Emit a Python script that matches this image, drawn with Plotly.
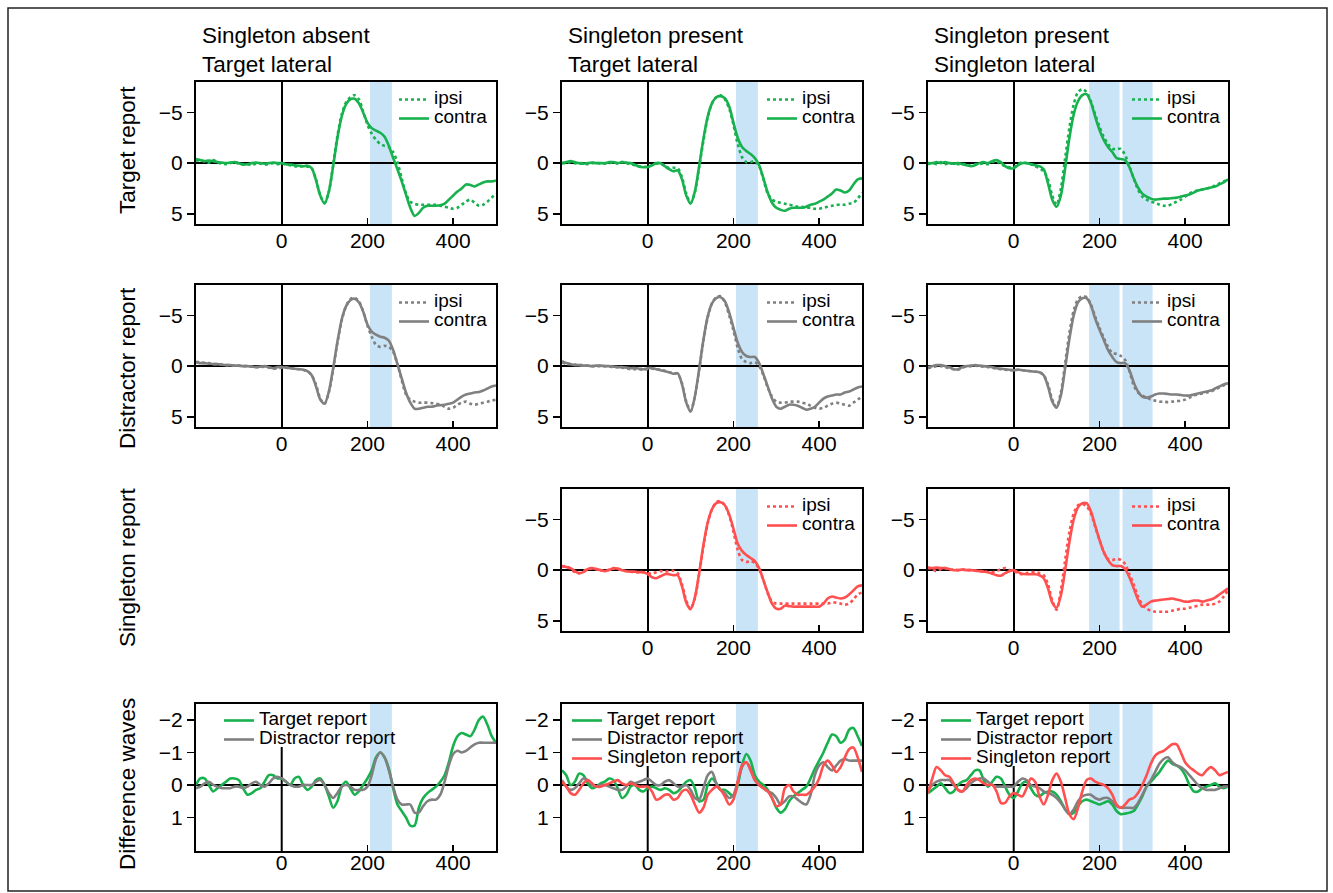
import plotly.graph_objects as go

# ---------------- data (µV, negative plotted upward) ----------------
TIME = list(range(-200, 501, 10))

# Row 1: target report
T_ABS_IPSI = [-0.2, -0.3, -0.15, -0.05, -0.3, -0.1, 0.05, 0.1, 0.0, -0.1,
              0.05, 0.1, 0.1, 0.2, 0.05, 0.05, 0.15, 0.1, 0.0, 0.1,
              0.0, 0.15, 0.2, 0.3, 0.35, 0.3, 0.35, 0.5, 1.6, 3.2,
              3.9, 2.8, 0.2, -2.7, -4.8, -6.0, -6.5, -6.7, -6.3, -5.1,
              -3.8, -2.9, -2.3, -1.9, -1.7, -1.6, -1.1, -0.1, 1.5, 3.0,
              3.8, 4.0, 4.1, 4.1, 4.1, 4.1, 4.1, 4.2, 4.3, 4.4,
              4.5, 4.4, 4.1, 3.8, 3.6, 3.9, 4.2, 4.1, 3.8, 3.4,
              3.0]
T_ABS_CONTRA = [-0.4, -0.3, -0.2, -0.25, -0.2, -0.1, -0.05, 0.0, -0.05, -0.1,
                0.0, 0.15, 0.1, 0.0, -0.05, 0.0, 0.05, 0.0, -0.05, 0.0,
                0.0, 0.1, 0.15, 0.2, 0.25, 0.3, 0.25, 0.5, 1.7, 3.2,
                4.0, 2.8, 0.3, -2.5, -4.6, -5.8, -6.3, -6.35, -5.9, -5.0,
                -4.0, -3.45, -3.2, -3.0, -2.6, -1.7, -0.5, 0.6, 1.8, 3.1,
                4.4, 5.2, 4.9, 4.4, 4.2, 4.2, 4.2, 4.15, 4.0, 3.6,
                3.2, 2.8, 2.5, 2.1, 2.15, 2.3, 2.1, 1.9, 1.8, 1.8,
                1.7]
T_PTL_IPSI = [0.0, 0.0, -0.1, 0.0, 0.05, 0.0, 0.1, 0.0, -0.05, 0.05,
              0.05, 0.0, -0.1, 0.05, -0.1, 0.0, 0.1, 0.2, 0.3, 0.35,
              0.35, 0.2, 0.05, 0.05, 0.25, 0.5, 0.45, 0.5, 1.4, 3.0,
              3.9, 2.9, 0.4, -2.2, -4.5, -5.9, -6.5, -6.7, -6.3, -5.4,
              -3.8, -1.9, -0.6, -0.1, -0.1, -0.2, 0.3, 1.6, 3.0, 3.6,
              3.8, 3.9, 4.0, 4.1, 4.2, 4.3, 4.3, 4.4, 4.4, 4.5,
              4.5, 4.4, 4.3, 4.2, 4.1, 4.1, 4.1, 4.0, 3.9, 3.5,
              2.9]
T_PTL_CONTRA = [0.0, -0.1, -0.2, -0.1, 0.0, 0.05, 0.0, -0.05, 0.0, 0.0,
                0.0, -0.1, -0.1, 0.0, -0.1, -0.05, 0.0, 0.15, 0.35, 0.4,
                0.4, 0.2, 0.0, 0.0, 0.3, 0.6, 0.8, 0.7, 1.6, 3.2,
                4.0, 2.8, 0.3, -2.4, -4.6, -5.9, -6.5, -6.6, -6.4, -5.6,
                -4.0, -2.5, -1.6, -1.2, -0.9, -0.5, 0.2, 1.5, 2.9, 3.9,
                4.4, 4.6, 4.7, 4.5, 4.4, 4.4, 4.4, 4.3, 4.1, 4.0,
                3.8, 3.6, 3.3, 3.0, 2.6, 2.7, 2.9, 2.7, 2.1, 1.6,
                1.5]
T_PSL_IPSI = [0.1, 0.0, 0.1, -0.1, 0.1, 0.0, 0.05, 0.1, 0.05, 0.15,
              0.25, 0.1, 0.1, 0.0, 0.1, -0.1, -0.2, 0.1, 0.3, 0.4,
              0.4, 0.1, -0.1, 0.0, 0.1, 0.3, 0.5, 0.8, 1.6, 3.2,
              4.1, 2.5, -0.5, -3.5, -5.8, -7.0, -7.3, -7.0, -6.1, -4.8,
              -3.6, -2.6, -1.9, -1.4, -1.4, -1.4, -0.8, 0.3, 1.5, 2.6,
              3.3, 3.6, 3.8, 3.9, 4.1, 4.2, 4.2, 4.0, 3.8, 3.6,
              3.3, 3.0, 2.8, 2.7, 2.6, 2.5, 2.4, 2.2, 2.0, 1.8,
              1.6]
T_PSL_CONTRA = [0.0, 0.0, -0.1, 0.0, -0.1, 0.0, 0.05, 0.0, 0.1, 0.2,
                0.3, 0.2, 0.0, -0.1, 0.0, -0.2, -0.3, -0.1, 0.3, 0.5,
                0.5, 0.2, 0.0, 0.0, 0.1, 0.2, 0.3, 0.6, 2.0, 3.6,
                4.3, 3.2, 0.5, -2.5, -4.8, -6.1, -6.7, -6.8, -6.0, -4.6,
                -3.3, -2.3, -1.6, -1.1, -0.5, -0.4, -0.3, 0.4, 1.5, 2.4,
                3.0, 3.3, 3.5, 3.6, 3.55, 3.5, 3.5, 3.45, 3.4, 3.3,
                3.2, 3.1, 2.9, 2.7, 2.6, 2.5, 2.4, 2.3, 2.1, 1.9,
                1.6]

# Row 2: distractor report
D_ABS_IPSI = [-0.4, -0.4, -0.3, -0.3, -0.2, -0.2, -0.15, -0.1, -0.1, -0.05,
              -0.05, 0.0, 0.0, 0.05, 0.1, 0.1, 0.05, 0.15, 0.25, 0.2,
              0.15, 0.15, 0.2, 0.25, 0.3, 0.35, 0.5, 0.9, 1.8, 3.2,
              3.7, 2.6, 0.3, -2.3, -4.5, -5.9, -6.6, -6.75, -6.4, -5.4,
              -4.0, -2.9, -2.1, -1.9, -2.0, -1.9, -1.4, -0.2, 1.4, 2.8,
              3.3, 3.5, 3.6, 3.6, 3.6, 3.65, 3.7, 3.8, 4.0, 4.2,
              4.1, 3.8, 3.6, 3.5, 3.7, 3.8, 3.7, 3.6, 3.5, 3.4,
              3.3]
D_ABS_CONTRA = [-0.4, -0.3, -0.3, -0.25, -0.2, -0.2, -0.15, -0.1, -0.1, -0.05,
                -0.05, 0.0, 0.0, 0.05, 0.1, 0.05, 0.0, 0.1, 0.2, 0.1,
                0.1, 0.15, 0.2, 0.25, 0.3, 0.35, 0.5, 0.9, 2.0, 3.3,
                3.7, 2.5, 0.2, -2.4, -4.6, -5.9, -6.5, -6.65, -6.3, -5.4,
                -4.1, -3.4, -3.1, -2.9, -2.8, -2.5, -1.6, -0.2, 1.2, 2.6,
                3.6, 4.2, 4.2, 4.1, 4.0, 4.0, 3.9, 3.85, 3.8, 3.7,
                3.6, 3.3, 3.0, 2.8, 2.7, 2.6, 2.55, 2.4, 2.2, 2.0,
                1.9]
D_PTL_IPSI = [-0.4, -0.2, -0.2, -0.15, -0.1, -0.1, -0.05, 0.0, 0.0, 0.0,
              0.0, 0.05, 0.1, 0.1, 0.15, 0.2, 0.3, 0.3, 0.3, 0.35,
              0.3, 0.25, 0.3, 0.35, 0.45, 0.6, 0.7, 0.75, 1.7, 3.5,
              4.4, 3.0, 0.4, -2.5, -4.8, -6.2, -6.8, -6.9, -6.3, -5.0,
              -3.5, -1.8, -0.7, -0.4, -0.3, -0.4, 0.0, 0.9, 2.1, 3.0,
              3.5, 3.6, 3.6, 3.5, 3.5, 3.5, 3.6, 3.7, 3.9, 4.1,
              4.2, 4.1, 3.9, 3.7, 3.6, 3.7, 3.8, 3.9, 3.6, 3.3,
              3.0]
D_PTL_CONTRA = [-0.5, -0.3, -0.2, -0.1, -0.1, -0.05, -0.05, 0.0, -0.05, -0.05,
                0.0, 0.0, 0.05, 0.1, 0.1, 0.15, 0.2, 0.2, 0.25, 0.3,
                0.2, 0.2, 0.3, 0.4, 0.5, 0.6, 0.75, 0.7, 1.8, 3.6,
                4.5, 3.0, 0.3, -2.6, -4.9, -6.2, -6.7, -6.8, -6.4, -5.3,
                -3.8, -2.3, -1.4, -1.0, -0.9, -0.9, -0.3, 0.8, 2.0, 3.2,
                4.0, 4.2, 4.0, 3.8, 3.8, 3.9, 4.1, 4.3, 4.2, 4.0,
                3.6, 3.2, 3.0, 2.9, 2.8, 2.8, 2.6, 2.5, 2.3, 2.1,
                2.0]
D_PSL_IPSI = [0.2, 0.1, 0.0, 0.0, 0.1, 0.2, 0.3, 0.35, 0.15, 0.05,
              0.0, -0.05, 0.0, 0.05, 0.1, 0.15, 0.25, 0.3, 0.35, 0.4,
              0.4, 0.35, 0.4, 0.45, 0.5, 0.55, 0.6, 0.9, 1.8, 3.3,
              4.0, 2.6, -0.3, -3.3, -5.5, -6.6, -6.9, -6.8, -6.1, -4.9,
              -3.8, -2.8, -1.9, -1.3, -1.2, -1.0, -0.6, 0.5, 1.9, 2.6,
              2.9, 3.1, 3.3, 3.4, 3.5, 3.5, 3.55, 3.5, 3.45, 3.4,
              3.3, 3.1, 2.9, 2.8, 2.7, 2.6, 2.5, 2.3, 2.1, 1.9,
              1.7]
D_PSL_CONTRA = [0.1, 0.0, -0.1, -0.1, 0.0, 0.1, 0.3, 0.3, 0.1, 0.0,
                -0.05, -0.1, -0.05, 0.0, 0.05, 0.1, 0.2, 0.25, 0.3, 0.35,
                0.4, 0.35, 0.4, 0.45, 0.5, 0.55, 0.6, 0.9, 2.0, 3.5,
                4.1, 2.9, 0.2, -2.7, -5.0, -6.3, -6.7, -6.7, -6.0, -4.7,
                -3.6, -2.6, -1.6, -0.9, -0.4, -0.3, -0.3, 0.4, 1.6, 2.5,
                3.0, 3.1, 3.0, 2.8, 2.7, 2.7, 2.75, 2.8, 2.8, 2.85,
                2.9, 2.9, 2.8, 2.7, 2.6, 2.5, 2.4, 2.2, 2.0, 1.8,
                1.7]

# Row 3: singleton report
S_PTL_IPSI = [-0.35, -0.4, -0.1, 0.2, 0.3, 0.1, -0.1, -0.15, -0.1, 0.05,
              0.05, -0.05, -0.15, -0.1, 0.0, 0.1, 0.15, 0.2, 0.2, 0.2,
              0.3, 0.35, 0.2, 0.1, 0.15, 0.1, 0.05, 0.3, 1.4, 3.0,
              3.8, 2.8, 0.4, -2.3, -4.6, -6.0, -6.7, -6.8, -6.4, -5.4,
              -3.8, -2.0, -1.0, -0.8, -0.9, -0.7, -0.1, 1.0, 2.3, 3.1,
              3.3, 3.3, 3.3, 3.3, 3.3, 3.3, 3.3, 3.3, 3.3, 3.3,
              3.3, 3.3, 3.3, 3.2, 3.2, 3.3, 3.4, 3.3, 2.9, 2.4,
              2.2]
S_PTL_CONTRA = [-0.4, -0.3, -0.2, 0.1, 0.3, 0.2, -0.1, -0.2, -0.1, 0.0,
                0.1, 0.0, -0.2, -0.15, 0.0, 0.1, 0.15, 0.15, 0.2, 0.2,
                0.4, 0.7, 0.8, 0.6, 0.4, 0.4, 0.5, 0.5, 1.6, 3.2,
                3.85, 2.7, 0.3, -2.5, -4.7, -6.0, -6.6, -6.7, -6.4, -5.5,
                -4.1, -2.6, -1.9, -1.5, -1.2, -0.9, -0.2, 1.0, 2.2, 3.3,
                3.8, 3.8, 3.5, 3.55, 3.6, 3.6, 3.6, 3.6, 3.6, 3.6,
                3.6, 3.3, 2.8, 2.6, 2.7, 2.8, 2.7, 2.4, 2.0, 1.6,
                1.5]
S_PSL_IPSI = [-0.3, -0.1, 0.1, -0.1, -0.2, 0.0, -0.1, 0.0, -0.05, 0.0,
              0.0, 0.05, 0.1, 0.1, 0.2, 0.2, 0.1, -0.1, -0.2, 0.0,
              0.1, 0.3, 0.4, 0.3, 0.2, 0.2, 0.3, 0.5, 1.4, 3.0,
              3.9, 2.0, -1.0, -3.8, -5.6, -6.4, -6.5, -6.3, -5.6, -4.3,
              -3.0, -1.8, -1.1, -1.0, -1.1, -1.0, -0.6, 0.4, 1.4, 2.6,
              3.4, 3.8, 4.0, 4.1, 4.1, 4.1, 4.1, 4.0, 3.9, 3.8,
              3.8, 3.7, 3.6, 3.5, 3.4, 3.4, 3.4, 3.3, 3.1, 2.6,
              2.0]
S_PSL_CONTRA = [-0.2, -0.2, -0.25, -0.2, -0.2, -0.1, 0.0, 0.0, -0.05, 0.0,
                0.0, 0.05, 0.1, 0.15, 0.2, 0.35, 0.5, 0.55, 0.3, 0.1,
                0.0, 0.2, 0.35, 0.4, 0.4, 0.4, 0.5, 0.8, 1.8, 3.2,
                3.7, 2.5, 0.0, -2.8, -5.0, -6.2, -6.6, -6.6, -5.8, -4.4,
                -3.0, -1.8, -1.0, -0.5, -0.4, -0.4, -0.1, 0.7, 1.8, 2.9,
                3.6, 3.4, 3.1, 3.0, 2.95, 2.9, 2.85, 2.8, 2.9, 3.0,
                3.1, 3.1, 3.0, 3.0, 3.1, 3.0, 2.9, 2.7, 2.4, 2.1,
                1.8]

# Row 4: difference waves (contra - ipsi)
DW_ABS_TARGET = [0.0, -0.2, -0.2, 0.0, 0.2, 0.1, 0.0, -0.1, -0.2, -0.2,
                 -0.15, 0.1, 0.3, 0.25, 0.15, 0.1, -0.1, -0.3, -0.3, -0.2,
                 -0.2, -0.1, 0.0, -0.2, -0.25, 0.0, 0.15, 0.05, -0.15, -0.2,
                 0.0, 0.35, 0.7, 0.5, 0.05, -0.1, 0.1, 0.3, 0.2, 0.0,
                 -0.2, -0.45, -0.85, -1.0, -0.85, -0.5, 0.1, 0.6, 0.8, 1.0,
                 1.25, 1.25, 0.7, 0.4, 0.25, 0.15, 0.05, -0.1, -0.3, -0.7,
                 -1.2, -1.5, -1.6, -1.55, -1.5, -1.7, -2.0, -2.1, -1.85, -1.5,
                 -1.3]
DW_ABS_DISTRACTOR = [0.1, 0.05, -0.05, -0.1, 0.0, 0.05, 0.1, 0.1, 0.1, 0.05,
                     0.05, 0.1, 0.05, -0.05, -0.1, 0.0, 0.05, -0.05, -0.2, -0.25,
                     -0.2, -0.1, 0.0, 0.05, 0.05, 0.0, 0.0, 0.0, -0.1, -0.15,
                     0.0, 0.25, 0.4, 0.25, 0.05, 0.0, 0.05, 0.15, 0.15, 0.15,
                     0.05, -0.3, -0.8, -1.0, -0.85, -0.45, 0.05, 0.45, 0.6, 0.6,
                     0.6, 0.85, 0.85, 0.65, 0.5, 0.45, 0.45, 0.3, -0.1, -0.6,
                     -0.95, -1.05, -1.0, -1.05, -1.15, -1.25, -1.3, -1.3, -1.3, -1.3,
                     -1.3]
DW_PTL_TARGET = [-0.45, -0.3, 0.0, -0.1, -0.35, -0.3, -0.05, 0.1, 0.05, -0.05,
                 -0.1, -0.2, -0.15, 0.1, 0.4, 0.3, 0.05, 0.0, 0.15, 0.2,
                 0.1, 0.05, 0.1, 0.15, 0.1, 0.15, 0.25, 0.2, 0.05, -0.1,
                 -0.15, 0.1, 0.5, 0.45, 0.0, -0.2, -0.05, 0.15, 0.15, 0.25,
                 0.35, 0.0, -0.6, -0.95, -0.75, -0.3, -0.1, 0.0, 0.15, 0.4,
                 0.7, 0.85, 0.75, 0.5, 0.35, 0.25, 0.15, 0.05, -0.2, -0.5,
                 -0.75, -1.0, -1.3, -1.55, -1.5, -1.3, -1.4, -1.7, -1.75, -1.5,
                 -1.2]
DW_PTL_DISTRACTOR = [-0.15, 0.05, 0.15, 0.1, -0.05, -0.2, -0.15, 0.0, 0.05, 0.0,
                     0.0, 0.05, 0.1, 0.15, 0.15, 0.05, -0.1, -0.05, -0.1, -0.15,
                     -0.2, -0.1, 0.0, 0.0, -0.1, -0.15, -0.05, 0.05, 0.05, 0.0,
                     0.15, 0.4, 0.45, 0.1, -0.3, -0.4, -0.05, 0.15, 0.25, 0.4,
                     0.3, -0.1, -0.55, -0.7, -0.5, -0.15, 0.0, 0.1, 0.2, 0.25,
                     0.4, 0.6, 0.5, 0.35, 0.35, 0.45, 0.55, 0.6, 0.3, -0.3,
                     -0.6, -0.7, -0.55, -0.45, -0.6, -0.75, -0.8, -0.75, -0.75, -0.75,
                     -0.75]
DW_PTL_SINGLETON = [-0.1, 0.05, 0.25, 0.3, 0.15, -0.05, -0.15, -0.05, 0.05, 0.05,
                    0.0, -0.05, -0.1, -0.15, -0.05, 0.0, -0.05, 0.0, 0.05, 0.05,
                    0.05, 0.2, 0.45, 0.4, 0.3, 0.3, 0.45, 0.4, 0.2, 0.15,
                    0.3, 0.6, 0.85, 0.7, 0.3, 0.15, 0.05, 0.15, 0.35, 0.6,
                    0.45, -0.1, -0.6, -0.7, -0.45, -0.15, 0.0, 0.1, 0.2, 0.4,
                    0.65, 0.6, 0.1, 0.0, 0.2, 0.3, 0.3, 0.3, 0.2, 0.05,
                    -0.2, -0.6, -0.75, -0.6, -0.4, -0.55, -0.85, -1.1, -1.15, -0.85,
                    -0.4]
DW_PSL_TARGET = [0.25, 0.15, 0.05, -0.05, 0.1, 0.25, 0.2, 0.0, -0.1, -0.15,
                 -0.3, -0.45, -0.45, -0.15, 0.05, -0.1, -0.25, -0.2, 0.05, 0.3,
                 0.4, 0.2, -0.05, -0.1, 0.1, 0.3, 0.35, 0.25, 0.2, 0.2,
                 0.3, 0.5, 0.75, 0.9, 0.85, 0.65, 0.5, 0.45, 0.5, 0.55,
                 0.6, 0.55, 0.5, 0.6, 0.8, 0.9, 0.88, 0.85, 0.8, 0.6,
                 0.35, 0.05, -0.1, -0.25, -0.4, -0.6, -0.75, -0.65, -0.6, -0.5,
                 -0.3, 0.0, 0.2, 0.2, 0.1, 0.05, 0.0, -0.05, 0.05, 0.1,
                 0.05]
DW_PSL_DISTRACTOR = [0.15, 0.0, -0.1, -0.15, -0.15, -0.15, 0.0, 0.15, 0.2, 0.1,
                     -0.05, -0.15, -0.2, -0.2, -0.1, 0.0, 0.05, 0.05, 0.05, 0.05,
                     0.05, -0.1, -0.2, -0.15, 0.0, 0.05, 0.1, 0.2, 0.25, 0.3,
                     0.4, 0.55, 0.75, 0.9, 0.75, 0.5, 0.35, 0.3, 0.3, 0.4,
                     0.45, 0.4, 0.4, 0.5, 0.65, 0.7, 0.7, 0.7, 0.7, 0.55,
                     0.3, 0.05, -0.15, -0.4, -0.65, -0.8, -0.85, -0.7, -0.6, -0.55,
                     -0.45, -0.3, -0.15, 0.0, 0.1, 0.15, 0.15, 0.15, 0.1, 0.05,
                     0.05]
DW_PSL_SINGLETON = [0.25, -0.2, -0.55, -0.45, -0.3, -0.25, -0.05, 0.15, 0.2, 0.0,
                    -0.15, -0.2, -0.15, -0.05, 0.0, 0.0, 0.2, 0.55, 0.55, 0.35,
                    0.25, 0.3, 0.35, 0.1, -0.2, -0.1, 0.35, 0.6, 0.3, -0.15,
                    -0.35, -0.1, 0.4, 0.9, 1.05, 0.7, 0.2, -0.15, -0.2, -0.1,
                    -0.05, 0.0, 0.1, 0.3, 0.6, 0.7, 0.6, 0.45, 0.4, 0.25,
                    0.0, -0.3, -0.65, -0.9, -1.0, -1.05, -1.15, -1.25, -1.25, -1.0,
                    -0.7, -0.55, -0.45, -0.35, -0.3, -0.45, -0.55, -0.45, -0.3, -0.35,
                    -0.4]

# analysis windows (ms)
WINDOWS_TARGET_LATERAL = [(206, 257)]
WINDOWS_SINGLETON_LATERAL = [(176, 247), (254, 324)]

COLUMN_TITLES = ["Singleton absent<br>Target lateral",
                 "Singleton present<br>Target lateral",
                 "Singleton present<br>Singleton lateral"]
ROW_LABELS = ["Target report", "Distractor report", "Singleton report", "Difference waves"]
X_TICKS = [0, 200, 400]
ERP_TICKS = [-5, 0, 5]
DIFF_TICKS = [-2, -1, 0, 1]

# ---------------- styling / layout ----------------
GREEN = "#17b14e"
GREY = "#808080"
RED = "#ff4f4f"
SHADE = "#c9e3f7"
FONT = "Liberation Sans, Arial, Helvetica, sans-serif"
LEGEND_TEXT_PX = 19

W, H = 1333, 893
COL_X = [(196, 496), (562, 862), (928, 1228)]
ROW_Y = [(82, 224), (285, 427), (489, 631), (704, 851)]
LEG_ERP_X = [399, 767, 1132]
LEG_DIFF_X = [224, 572, 941]
ERP_RANGE = [6.0, -8.0]
DIFF_RANGE = [2.03, -2.49]


def fx(px):
    return px / W


def fy(py):
    return 1 - py / H


def leg_label(text):
    return '<span style="font-size:%dpx">%s</span>' % (LEGEND_TEXT_PX, text)


panels = [
    (0, 0, [("ipsi", T_ABS_IPSI, GREEN, "dot"), ("contra", T_ABS_CONTRA, GREEN, "solid")], WINDOWS_TARGET_LATERAL),
    (0, 1, [("ipsi", T_PTL_IPSI, GREEN, "dot"), ("contra", T_PTL_CONTRA, GREEN, "solid")], WINDOWS_TARGET_LATERAL),
    (0, 2, [("ipsi", T_PSL_IPSI, GREEN, "dot"), ("contra", T_PSL_CONTRA, GREEN, "solid")], WINDOWS_SINGLETON_LATERAL),
    (1, 0, [("ipsi", D_ABS_IPSI, GREY, "dot"), ("contra", D_ABS_CONTRA, GREY, "solid")], WINDOWS_TARGET_LATERAL),
    (1, 1, [("ipsi", D_PTL_IPSI, GREY, "dot"), ("contra", D_PTL_CONTRA, GREY, "solid")], WINDOWS_TARGET_LATERAL),
    (1, 2, [("ipsi", D_PSL_IPSI, GREY, "dot"), ("contra", D_PSL_CONTRA, GREY, "solid")], WINDOWS_SINGLETON_LATERAL),
    (2, 1, [("ipsi", S_PTL_IPSI, RED, "dot"), ("contra", S_PTL_CONTRA, RED, "solid")], WINDOWS_TARGET_LATERAL),
    (2, 2, [("ipsi", S_PSL_IPSI, RED, "dot"), ("contra", S_PSL_CONTRA, RED, "solid")], WINDOWS_SINGLETON_LATERAL),
    (3, 0, [("Target report", DW_ABS_TARGET, GREEN, "solid"),
            ("Distractor report", DW_ABS_DISTRACTOR, GREY, "solid")], WINDOWS_TARGET_LATERAL),
    (3, 1, [("Target report", DW_PTL_TARGET, GREEN, "solid"),
            ("Distractor report", DW_PTL_DISTRACTOR, GREY, "solid"),
            ("Singleton report", DW_PTL_SINGLETON, RED, "solid")], WINDOWS_TARGET_LATERAL),
    (3, 2, [("Target report", DW_PSL_TARGET, GREEN, "solid"),
            ("Distractor report", DW_PSL_DISTRACTOR, GREY, "solid"),
            ("Singleton report", DW_PSL_SINGLETON, RED, "solid")], WINDOWS_SINGLETON_LATERAL),
]

fig = go.Figure()
layout = dict(
    width=W, height=H, autosize=False,
    margin=dict(l=0, r=0, t=0, b=0, pad=0),
    paper_bgcolor="white", plot_bgcolor="white",
    font=dict(family=FONT, size=21, color="black"),
    showlegend=True,
)
shapes = []
annotations = []

for k, (r, c, series, windows) in enumerate(panels, start=1):
    sx = "" if k == 1 else str(k)
    xname, yname = "x" + sx, "y" + sx
    legname = "legend" + sx
    is_diff = r == 3
    x0, x1 = COL_X[c]
    y0, y1 = ROW_Y[r]
    layout["xaxis" + sx] = dict(
        domain=[fx(x0), fx(x1)], anchor=yname, range=[-200, 500],
        tickvals=X_TICKS, ticks="inside", ticklen=6, tickwidth=1.5, tickcolor="black",
        showline=True, mirror=True, linecolor="black", linewidth=2,
        showgrid=False, zeroline=not is_diff, zerolinecolor="black", zerolinewidth=2,
        tickfont=dict(size=21), ticklabelstandoff=-8 if is_diff else -3, fixedrange=True,
    )
    layout["yaxis" + sx] = dict(
        domain=[fy(y1), fy(y0)], anchor=xname,
        range=DIFF_RANGE if is_diff else ERP_RANGE,
        tickvals=DIFF_TICKS if is_diff else ERP_TICKS,
        ticks="outside", ticklen=7, tickwidth=1.5, tickcolor="black",
        showline=True, mirror=True, linecolor="black", linewidth=2,
        showgrid=False, zeroline=True, zerolinecolor="black", zerolinewidth=2,
        tickfont=dict(size=21), fixedrange=True,
    )
    for (a, b) in windows:
        shapes.append(dict(type="rect", xref=xname, yref=yname + " domain",
                           x0=a, x1=b, y0=0, y1=1, fillcolor=SHADE,
                           line=dict(width=0), layer="below"))
    if is_diff:
        leg_top = y0 + 2
        # stimulus-onset line stops where the legend box begins
        leg_bottom = leg_top + 19 * len(series) + 3
        shapes.append(dict(type="line", xref=xname, yref=yname + " domain",
                           x0=0, x1=0, y0=0, y1=(y1 - leg_bottom) / (y1 - y0),
                           line=dict(color="black", width=2), layer="below"))
        lx = LEG_DIFF_X[c]
    else:
        leg_top = y0 + 3
        lx = LEG_ERP_X[c]
    layout[legname] = dict(
        x=fx(lx - 5), y=fy(leg_top), xanchor="left", yanchor="top",
        bgcolor="rgba(0,0,0,0)", borderwidth=0,
        font=dict(size=12, family=FONT), tracegroupgap=0, itemwidth=30,
    )
    for name, vals, color, dash in series:
        fig.add_trace(go.Scatter(
            x=TIME, y=vals, name=leg_label(name), mode="lines",
            line=dict(color=color, width=2.6, dash=dash, shape="spline", smoothing=0.8),
            xaxis=xname, yaxis=yname, legend=legname, showlegend=True,
            hoverinfo="skip",
        ))

for c, title in enumerate(COLUMN_TITLES):
    annotations.append(dict(text=title, xref="paper", yref="paper",
                            x=fx(COL_X[c][0] + 4), y=fy(50), xanchor="left", yanchor="middle",
                            align="left", showarrow=False, font=dict(size=22.5)))

ROW_LABEL_Y = [150, 368, 567, 784]
for r, label in enumerate(ROW_LABELS):
    annotations.append(dict(text=label, xref="paper", yref="paper",
                            x=fx(127), y=fy(ROW_LABEL_Y[r]), xanchor="center", yanchor="middle",
                            textangle=-90, showarrow=False, font=dict(size=22.5)))

# outer frame
shapes.append(dict(type="rect", xref="paper", yref="paper",
                   x0=fx(8), x1=fx(1327), y0=fy(891), y1=fy(8),
                   line=dict(color="#222222", width=1.5), fillcolor="rgba(0,0,0,0)", layer="above"))

layout["shapes"] = shapes
layout["annotations"] = annotations
fig.update_layout(**layout)

fig.write_html("out.html", config={"displayModeBar": False, "staticPlot": True},
               post_script="document.body.style.margin='0px';")
